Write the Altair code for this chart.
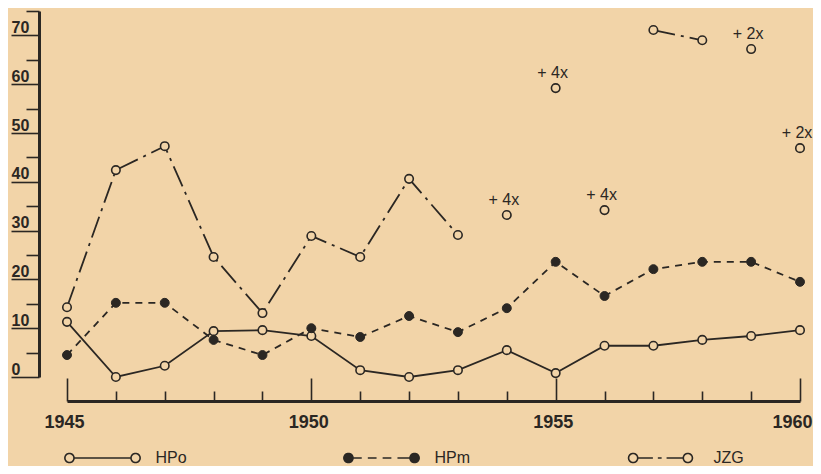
import math
import altair as alt
import pandas as pd

# ---------------- data ----------------
years = list(range(1945, 1961))
hpo = [11.3, 0.0, 2.3, 9.4, 9.6, 8.4, 1.4, 0.0, 1.4, 5.5, 0.8, 6.4, 6.4, 7.6, 8.4, 9.6]
hpm = [4.5, 15.2, 15.2, 7.6, 4.5, 10.0, 8.2, 12.5, 9.2, 14.1, 23.6, 16.6, 22.1, 23.6, 23.6, 19.5]
jzg = [14.3, 42.4, 47.3, 24.6, 13.1, 28.9, 24.6, 40.6, 29.1, 33.2, 59.2, 34.2, 71.1, 69.0, 67.2, 46.9]
# JZG connected runs ("" = isolated point drawn at reduced scale)
jzg_run = ["a"] * 9 + [""] * 3 + ["b", "b"] + [""] * 2
jzg_note = [""] * 9 + ["+ 4x", "+ 4x", "+ 4x", "", "", "+ 2x", "+ 2x"]
series = ["HPo", "HPm", "JZG"]
x_label_years = [1945, 1950, 1955, 1960]
y_tick_values = list(range(0, 80, 5))

bg = "#F2D4A8"
ink = "#2b2723"
font = "Liberation Sans"

rows = []
for i, yr in enumerate(years):
    rows.append({"year": yr, "value": hpo[i], "series": "HPo", "run": "HPo", "note": ""})
    rows.append({"year": yr, "value": hpm[i], "series": "HPm", "run": "HPm", "note": ""})
    rows.append({"year": yr, "value": jzg[i], "series": "JZG",
                 "run": ("JZG-" + jzg_run[i]) if jzg_run[i] else "", "note": jzg_note[i]})
df = pd.DataFrame(rows)

# ---------------- legend symbols (custom shapes) ----------------
def circ(cx, r=0.121, n=18):
    pts = [(cx + r * math.cos(2 * math.pi * k / n), r * math.sin(2 * math.pi * k / n)) for k in range(n)]
    return "M" + "L".join(f"{x:.3f},{y:.3f}" for x, y in pts) + "Z"

def seg(a, b):
    return f"M{a:.3f},0L{b:.3f},0"

sym_hpo = circ(-0.87) + seg(-0.75, 0.75) + circ(0.87)
sym_hpm = circ(-0.87) + seg(-0.75, -0.52) + seg(-0.36, -0.13) + seg(0.03, 0.26) + seg(0.42, 0.75) + circ(0.87)
sym_jzg = circ(-0.72) + seg(-0.6, -0.2) + seg(-0.07, 0.03) + seg(0.16, 0.6) + circ(0.72)

xscale = alt.Scale(domain=[1945, 1960], nice=False, zero=False)
yscale = alt.Scale(domain=[0, 75], nice=False, zero=False)

x_ticks_axis = alt.Axis(
    orient="top", offset=-390, values=years, labels=False, title=None, grid=False,
    domain=True, domainColor=ink, domainWidth=3, ticks=True, tickColor=ink, tickWidth=1.6,
    tickSize={"condition": {"test": "datum.value % 5 === 0", "value": 23}, "value": 10},
)
x_label_axis = alt.Axis(
    orient="bottom", offset=24, values=x_label_years, title=None, grid=False,
    domain=False, ticks=False, labelPadding=12, labelFont=font, labelFontSize=18,
    labelFontWeight="bold", labelColor=ink, format="d", labelFlush=False, labelOverlap=False,
    labelOffset={"condition": {"test": "datum.value === 1960", "value": -8}, "value": -3},
)
y_axis = alt.Axis(
    orient="left", offset=28, values=y_tick_values, title=None, grid=False,
    labelExpr="datum.value % 10 === 0 ? datum.label : ''",
    labelAlign="left", labelBaseline="alphabetic", labelOffset=-3, labelPadding=0,
    labelFont=font, labelFontSize=16, labelFontWeight="bold", labelColor=ink,
    labelFlush=False, labelOverlap=False,
    domain=True, domainColor=ink, domainWidth=3, ticks=True, tickColor=ink, tickWidth=1.6,
    tickSize={"condition": {"test": "datum.value % 10 === 0", "value": 28}, "value": 13},
)

base = alt.Chart(df)
X_NONE = alt.X("year:Q", scale=xscale, axis=None)
Y_NONE = alt.Y("value:Q", scale=yscale, axis=None)

line_hpo = base.transform_filter("datum.series == 'HPo'").mark_line(
    color=ink, strokeWidth=1.8
).encode(x=alt.X("year:Q", scale=xscale, axis=x_ticks_axis), y=Y_NONE)

line_hpm = base.transform_filter("datum.series == 'HPm'").mark_line(
    color=ink, strokeWidth=1.8, strokeDash=[7, 6]
).encode(x=X_NONE, y=Y_NONE)

line_jzg = base.transform_filter("datum.series == 'JZG' && datum.run != ''").mark_line(
    color=ink, strokeWidth=1.8, strokeDash=[22, 6, 3, 6]
).encode(x=X_NONE, y=Y_NONE, detail="run:N")

open_pts = base.transform_filter("datum.series != 'HPm'").mark_point(
    filled=True, fill=bg, stroke=ink, strokeWidth=1.6, size=72, opacity=1
).encode(
    x=alt.X("year:Q", scale=xscale, axis=x_label_axis),
    y=alt.Y("value:Q", scale=yscale, axis=y_axis),
)

filled_pts = base.transform_filter("datum.series == 'HPm'").mark_point(
    filled=True, fill=ink, stroke=ink, strokeWidth=1, size=80, opacity=1
).encode(x=X_NONE, y=Y_NONE)

notes = base.transform_filter("datum.note != ''").mark_text(
    font=font, fontSize=16, color=ink, baseline="alphabetic", dy=-10, dx=-3
).encode(x=X_NONE, y=Y_NONE, text="note:N")

legend_spec = dict(
    title=None, orient="none", legendX=-3.5, legendY=408, direction="horizontal", columns=3,
    columnPadding=149, gridAlign="all", padding=0, symbolSize=5776, symbolStrokeWidth=1.6,
    symbolStrokeColor=ink, symbolOpacity=1, labelFont=font, labelFontSize=16, labelColor=ink,
    labelOffset=14,
)
# layer that only feeds the legend: tiny marks hidden beneath the 1945 points
legend_layer = base.transform_filter("datum.year == 1945").mark_point(
    filled=True, strokeWidth=1.6, size=4, opacity=1
).encode(
    x=X_NONE, y=Y_NONE,
    shape=alt.Shape("series:N", scale=alt.Scale(domain=series, range=[sym_hpo, sym_hpm, sym_jzg]),
                    legend=alt.Legend(**legend_spec)),
    fill=alt.Fill("series:N", scale=alt.Scale(domain=series, range=[bg, ink, bg]),
                  legend=alt.Legend(**legend_spec)),
    stroke=alt.Stroke("series:N", scale=alt.Scale(domain=series, range=[ink, ink, ink]),
                      legend=alt.Legend(**legend_spec)),
)

chart = alt.layer(legend_layer, line_hpo, line_hpm, line_jzg, open_pts, filled_pts, notes).resolve_axis(
    x="independent", y="independent"
).properties(
    width=733, height=366,
    autosize=alt.AutoSizeParams(type="none"),
    padding={"left": 59, "top": 3, "right": 13, "bottom": 89},
    background=bg,
).configure_view(stroke=None)

chart.save("out.html", embed_options={"renderer": "svg", "actions": False})
